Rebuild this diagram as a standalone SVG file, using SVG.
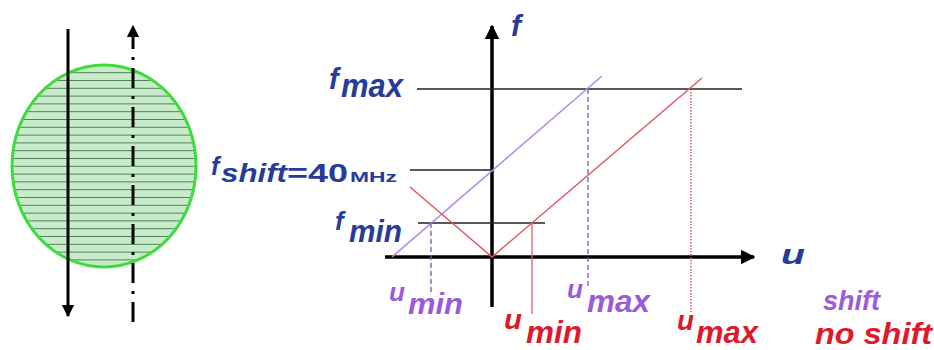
<svg xmlns="http://www.w3.org/2000/svg" width="934" height="350" viewBox="0 0 934 350">
<style>
text{font-family:"Liberation Sans",Arial,sans-serif;font-weight:bold;font-style:italic}
.nv{fill:#263c98}
.pu{fill:#9b5bd8}
.rd{fill:#e0182c}
.up{font-style:normal}
.axis{stroke:#000;stroke-width:3.5;fill:none}
.lvl{stroke:#222;stroke-width:1.6;fill:none}
.pl{stroke:#b08ae4;stroke-width:1.6;fill:none}
.rl{stroke:#e4505c;stroke-width:1.4;fill:none}
</style>
<defs>
<pattern id="hatch" patternUnits="userSpaceOnUse" width="10" height="7.8" y="2">
<rect width="10" height="7.8" fill="#c8ecca"/>
<line x1="0" y1="0.5" x2="10" y2="0.5" stroke="#4f7f5c" stroke-width="1"/>
</pattern>
<marker id="ah" viewBox="0 0 10 10" refX="9" refY="5" markerWidth="4.2" markerHeight="4.2" orient="auto" markerUnits="strokeWidth">
<path d="M0,0 L10,5 L0,10 z" fill="#000"/>
</marker>
</defs>

<g id="beam">
<ellipse cx="104" cy="166" rx="92" ry="101" fill="url(#hatch)" stroke="#3ddc3d" stroke-width="3"/>
</g>
<g id="left-arrows">
<path d="M68,29 V316" stroke="#000" stroke-width="3" fill="none" marker-end="url(#ah)"/>
<path d="M133,322 V26" stroke="#000" stroke-width="3" fill="none" stroke-dasharray="20,8,3,8" marker-end="url(#ah)"/>
</g>

<g id="connectors">
<path class="axis" d="M492,307 V26" marker-end="url(#ah)"/>
<path class="axis" d="M385,257 H754" marker-end="url(#ah)"/>
<path class="lvl" d="M417,89 H742"/>
<path class="lvl" d="M410,170 H492"/>
<path class="lvl" d="M418,223 H545"/>
<path class="pl" d="M392,257 L602,76"/>
<path class="rl" d="M410,187 L492,257 L702,78"/>
<path d="M431,223 V292" stroke="#7a58b0" stroke-width="1.3" stroke-dasharray="5,3"/>
<path d="M588,89 V286" stroke="#7a58b0" stroke-width="1.3" stroke-dasharray="5,3"/>
<path d="M532,223 V314" stroke="#d86070" stroke-width="1.3"/>
<path d="M691,89 V312" stroke="#e03848" stroke-width="1.3" stroke-dasharray="1.5,1.5"/>
</g>

<g id="label-f"><text class="nv" x="511" y="36" font-size="30">f</text></g>
<g id="label-u"><text class="nv" x="781" y="264" font-size="28" textLength="24" lengthAdjust="spacingAndGlyphs">u</text></g>
<g id="label-fmax">
<text class="nv" x="329" y="89" font-size="29">f</text>
<text class="nv" x="341" y="97" font-size="33" textLength="62" lengthAdjust="spacingAndGlyphs">max</text>
</g>
<g id="label-fshift">
<text class="nv" x="211" y="175" font-size="25">f</text>
<text class="nv" x="221" y="182" font-size="26" textLength="66" lengthAdjust="spacingAndGlyphs">shift</text>
<text class="nv up" x="287" y="182" font-size="25" textLength="61" lengthAdjust="spacingAndGlyphs">=40</text>
<text class="nv up" x="350" y="182" font-size="15" textLength="47" lengthAdjust="spacingAndGlyphs">MHz</text>
</g>
<g id="label-fmin">
<text class="nv" x="335" y="230" font-size="26">f</text>
<text class="nv" x="349" y="242" font-size="32" textLength="53" lengthAdjust="spacingAndGlyphs">min</text>
</g>
<g id="label-umin-shift">
<text class="pu" x="389" y="301" font-size="26" textLength="16" lengthAdjust="spacingAndGlyphs">u</text>
<text class="pu" x="408" y="314" font-size="30" textLength="55" lengthAdjust="spacingAndGlyphs">min</text>
</g>
<g id="label-umax-shift">
<text class="pu" x="567" y="298" font-size="26" textLength="16" lengthAdjust="spacingAndGlyphs">u</text>
<text class="pu" x="587" y="312" font-size="32" textLength="63" lengthAdjust="spacingAndGlyphs">max</text>
</g>
<g id="label-umin-noshift">
<text class="rd" x="504" y="329" font-size="27" textLength="18" lengthAdjust="spacingAndGlyphs">u</text>
<text class="rd" x="526" y="343" font-size="31" textLength="56" lengthAdjust="spacingAndGlyphs">min</text>
</g>
<g id="label-umax-noshift">
<text class="rd" x="677" y="330" font-size="27" textLength="17" lengthAdjust="spacingAndGlyphs">u</text>
<text class="rd" x="696" y="343" font-size="32" textLength="62" lengthAdjust="spacingAndGlyphs">max</text>
</g>
<g id="legend">
<text class="pu" x="823" y="310" font-size="28" textLength="57" lengthAdjust="spacingAndGlyphs">shift</text>
<text class="rd" x="815" y="344" font-size="29" textLength="117" lengthAdjust="spacingAndGlyphs">no shift</text>
</g>
</svg>
